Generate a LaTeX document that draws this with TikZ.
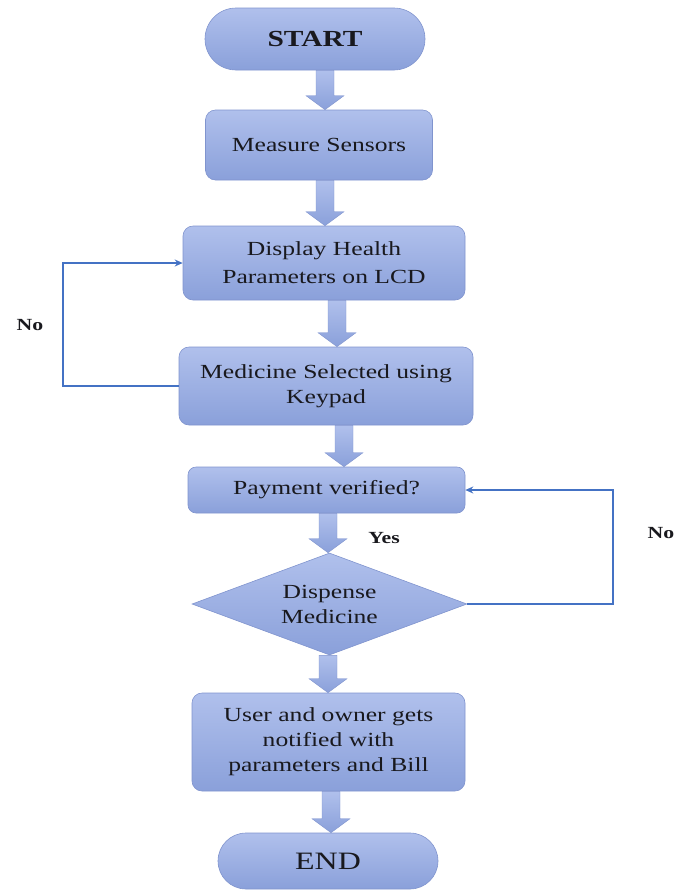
\documentclass[tikz,border=0pt]{standalone}
\usepackage{fontspec}
\setmainfont[FakeStretch=1.28]{Liberation Serif}
\usetikzlibrary{shapes.geometric,shapes.misc,calc,arrows.meta}
\definecolor{boxtop}{RGB}{176,192,236}
\definecolor{boxbot}{RGB}{138,160,218}
\definecolor{boxedge}{RGB}{128,148,206}
\definecolor{loopc}{RGB}{68,114,196}
\definecolor{txt}{RGB}{25,25,30}
\tikzset{
  fc/.style={top color=boxtop, bottom color=boxbot, draw=boxedge, line width=0.6pt,
    text=txt, align=center, inner sep=0pt, font=\fontsize{20}{25}\selectfont},
  procbox/.style={fc, rounded corners=10pt},
  termbox/.style={fc, rounded rectangle},
  decbox/.style={fc, diamond, shape aspect=2.7},
  arrowfill/.style={top color=boxtop, bottom color=boxbot, draw=boxedge, line width=0.4pt},
  loopline/.style={draw=loopc, line width=1.5pt, -{Stealth[length=8pt,width=7pt]}},
  lbl/.style={text=txt, font=\fontsize{17}{20}\selectfont\bfseries}
}
\newcommand{\barrow}[3]{%
  \path[arrowfill] let \p1=(#1.south), \p2=(#2.north) in
    ({#3pt-9pt},\y1) -- ({#3pt+9pt},\y1) -- ({#3pt+9pt},\y2+14pt) --
    ({#3pt+19pt},\y2+14pt) -- (#3pt,\y2) -- ({#3pt-19pt},\y2+14pt) --
    ({#3pt-9pt},\y2+14pt) -- cycle;}
\begin{document}
\begin{tikzpicture}[x=1pt,y=-1pt]
\useasboundingbox (0,0) rectangle (678,892);
\node[termbox, minimum width=220pt, minimum height=62pt, font=\fontsize{23}{26}\selectfont\bfseries] (start) at (315,39) {START};
\node[procbox, minimum width=227pt, minimum height=70pt] (meas) at (319,145) {Measure Sensors};
\node[procbox, minimum width=282pt, minimum height=74pt, font=\fontsize{20}{28}\selectfont] (disp) at (324,263) {Display Health\\Parameters on LCD};
\node[procbox, minimum width=294pt, minimum height=78pt] (med) at (326,386) {Medicine Selected using\\Keypad};
\node[procbox, minimum width=277pt, minimum height=46pt, rounded corners=8pt] (pay) at (326.5,490) {Payment verified?};
\node[decbox, minimum width=275pt, minimum height=102pt] (dis) at (329.5,604) {Dispense\\Medicine};
\node[procbox, minimum width=273pt, minimum height=98pt] (user) at (328.5,742) {User and owner gets\\notified with\\parameters and Bill};
\node[termbox, minimum width=220pt, minimum height=56pt, font=\fontsize{25}{28}\selectfont] (end) at (328,861) {END};

\barrow{start}{meas}{325}
\barrow{meas}{disp}{325}
\barrow{disp}{med}{337}
\barrow{med}{pay}{344}
\barrow{pay}{dis}{328}
\barrow{dis}{user}{328}
\barrow{user}{end}{331}

\coordinate (lc) at (63,0);
\coordinate (rc) at (613,0);
\draw[loopline] (med.west) -- (med.west -| lc) |- (disp.west);
\draw[loopline] (dis.east) -- (dis.east -| rc) |- (pay.east);

\node[lbl] (nol) at (30,325) {No};
\node[lbl] (nor) at (661,533) {No};
\node[lbl] (yes) at (384,538) {Yes};
\end{tikzpicture}
\end{document}
